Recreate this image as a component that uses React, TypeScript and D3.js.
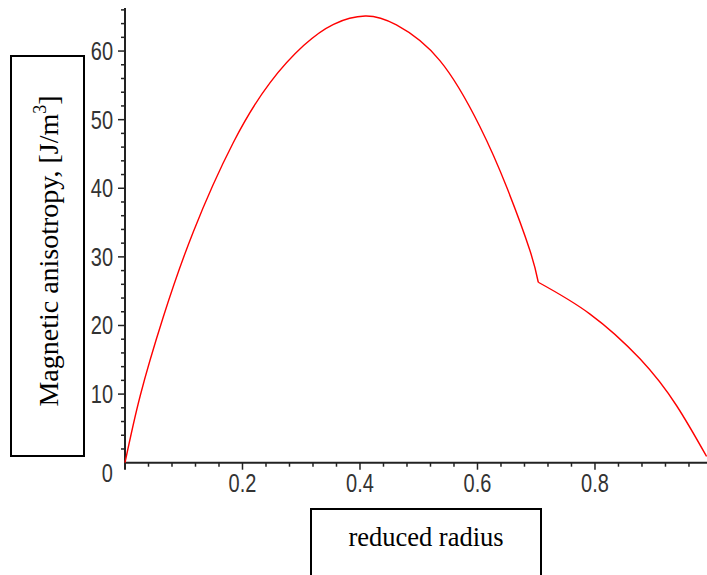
import React, { useRef, useEffect } from 'react';
import * as d3 from 'd3';

// values (the curve has a kink at r = 0.7035)
const radius = [0, 0.026, 0.065, 0.116, 0.184, 0.247, 0.304, 0.355, 0.409, 0.462, 0.536, 0.604,
  0.65, 0.689, 0.7035, 0.791, 0.877, 0.939, 0.99];
const anisotropy = [0, 9.8, 21.2, 33.6, 46.6, 55.4, 60.8, 63.9, 65.1, 63.8, 58.6, 49.0,
  40.1, 31.0, 26.3, 21.7, 15.1, 8.3, 0.9];
const kinkIndex = 14;

const xTicks = [0.2, 0.4, 0.6, 0.8];
const yTicks = [10, 20, 30, 40, 50, 60];

const W = 707;
const H = 575;

export default function App() {
  const ref = useRef<SVGSVGElement>(null);

  useEffect(() => {
    const svg = d3.select(ref.current);
    svg.selectAll('*').remove();

    const x = d3.scaleLinear().domain([0, 0.99]).range([125, 706.6]);
    const y = d3.scaleLinear().domain([0, 66.1]).range([462.7, 9.2]);
    const axisColor = '#222';

    // minor ticks
    const xMinor = d3.range(0.04, 0.99, 0.04).filter(v => !xTicks.some(t => Math.abs(t - v) < 1e-6));
    const yMinor = d3.range(2, 67, 2).filter(v => v % 10 !== 0);

    svg.selectAll('.xminor').data(xMinor).enter().append('line')
      .attr('x1', d => x(d)).attr('x2', d => x(d))
      .attr('y1', y(0)).attr('y2', y(0) + 4)
      .attr('stroke', axisColor).attr('stroke-width', 1.5);
    svg.selectAll('.xmajor').data(xTicks).enter().append('line')
      .attr('x1', d => x(d)).attr('x2', d => x(d))
      .attr('y1', y(0)).attr('y2', y(0) + 7)
      .attr('stroke', axisColor).attr('stroke-width', 1.5);
    svg.selectAll('.yminor').data(yMinor).enter().append('line')
      .attr('x1', x(0) - 4).attr('x2', x(0))
      .attr('y1', d => y(d)).attr('y2', d => y(d))
      .attr('stroke', axisColor).attr('stroke-width', 1.5);
    svg.selectAll('.ymajor').data(yTicks).enter().append('line')
      .attr('x1', x(0) - 7).attr('x2', x(0))
      .attr('y1', d => y(d)).attr('y2', d => y(d))
      .attr('stroke', axisColor).attr('stroke-width', 1.5);

    // axis lines
    svg.append('line').attr('x1', x(0)).attr('x2', x(0)).attr('y1', y(0) + 7).attr('y2', 8)
      .attr('stroke', axisColor).attr('stroke-width', 2);
    svg.append('line').attr('x1', x(0)).attr('x2', W).attr('y1', y(0)).attr('y2', y(0))
      .attr('stroke', axisColor).attr('stroke-width', 2);

    // tick labels (narrow sans)
    const tickFont = 'Liberation Sans, Arial, sans-serif';
    const labColor = '#333';
    svg.selectAll('.xlab').data(xTicks).enter().append('text')
      .attr('transform', d => `translate(${x(d)},492) scale(0.8,1)`)
      .attr('text-anchor', 'middle')
      .attr('font-family', tickFont).attr('font-size', 25)
      .attr('fill', labColor)
      .text(d => d3.format('.1f')(d));
    svg.selectAll('.ylab').data(yTicks).enter().append('text')
      .attr('transform', d => `translate(113,${y(d) + 9}) scale(0.8,1)`)
      .attr('text-anchor', 'end')
      .attr('font-family', tickFont).attr('font-size', 25)
      .attr('fill', labColor)
      .text(d => d);
    svg.append('text')
      .attr('transform', 'translate(113,482) scale(0.8,1)')
      .attr('text-anchor', 'end')
      .attr('font-family', tickFont).attr('font-size', 25)
      .attr('fill', labColor)
      .text('0');

    // the curve, drawn in two pieces so the kink stays sharp
    const pts: [number, number][] = radius.map((r, i) => [r, anisotropy[i]]);
    const line = d3.line<[number, number]>()
      .x(d => x(d[0]))
      .y(d => y(d[1]))
      .curve(d3.curveNatural);
    [pts.slice(0, kinkIndex + 1), pts.slice(kinkIndex)].forEach(seg => {
      svg.append('path')
        .attr('d', line(seg))
        .attr('fill', 'none')
        .attr('stroke', '#ff0000')
        .attr('stroke-width', 1.4);
    });

    // label boxes
    svg.append('rect').attr('x', 11).attr('y', 56).attr('width', 73).attr('height', 400)
      .attr('fill', 'none').attr('stroke', '#000').attr('stroke-width', 2);
    svg.append('rect').attr('x', 311).attr('y', 509).attr('width', 230).attr('height', 90)
      .attr('fill', 'none').attr('stroke', '#000').attr('stroke-width', 2);

    const serif = 'Liberation Serif, Times New Roman, serif';
    const ylab = svg.append('text')
      .attr('transform', 'translate(58,251) rotate(-90)')
      .attr('text-anchor', 'middle')
      .attr('font-family', serif).attr('font-size', 28)
      .attr('fill', '#000');
    ylab.append('tspan').text('Magnetic anisotropy, [J/m');
    ylab.append('tspan').attr('dy', -12).attr('font-size', 18).text('3');
    ylab.append('tspan').attr('dy', 12).text(']');

    svg.append('text')
      .attr('x', 426).attr('y', 546)
      .attr('text-anchor', 'middle')
      .attr('font-family', serif).attr('font-size', 26.5)
      .attr('fill', '#000')
      .text('reduced radius');
  }, []);

  return (
    <svg ref={ref} width={W} height={H} style={{ position: 'absolute', left: 0, top: 0, background: '#fff' }} />
  );
}
